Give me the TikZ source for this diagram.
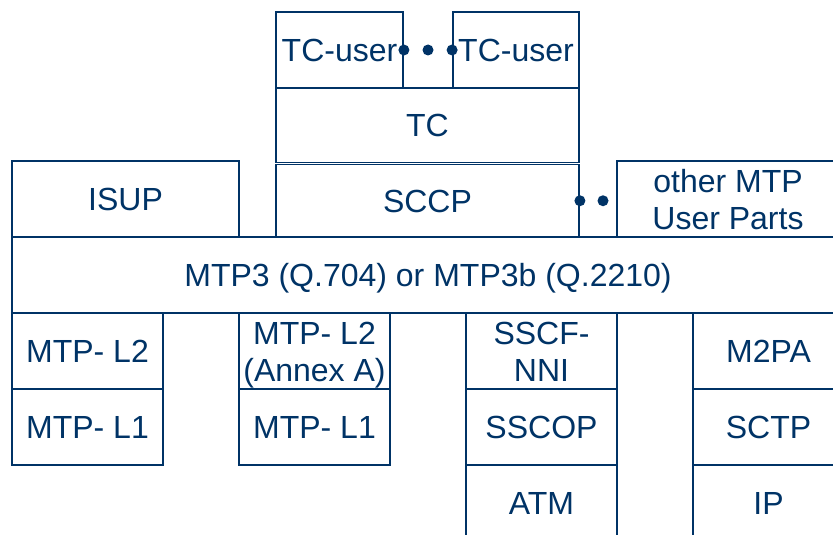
\documentclass[tikz,border=0pt]{standalone}
\usepackage{fontspec}
\setmainfont{Liberation Sans}
\usetikzlibrary{calc}
\definecolor{navy}{RGB}{0,51,102}
\begin{document}
\begin{tikzpicture}[x=1pt,y=-1pt,
  blk/.style={draw=navy, line width=1.8pt, text=navy, inner sep=0pt,
    font=\fontsize{32}{37}\selectfont, text height=23pt, text depth=0pt, align=center},
  two/.style={text height=60pt, text depth=0pt},
  dotc/.style={circle, fill=navy, inner sep=0pt, minimum size=11pt}]
\useasboundingbox (0,0) rectangle (833,535);
\clip (0,0) rectangle (833,535);
% top stack
\node[blk, minimum width=127pt, minimum height=76pt] (tcu1) at (339.5,50) {TC-user};
\node[blk, minimum width=126pt, minimum height=76pt] (tcu2) at (516,50) {TC-user};
\node[blk, minimum width=303pt, minimum height=74.5pt] (tc) at (427.5,125.25) {TC};
\node[blk, minimum width=303pt, minimum height=72.5pt] (sccp) at (427.5,200.75) {SCCP};
\node[blk, minimum width=227pt, minimum height=76pt] (isup) at (125.5,199) {ISUP};
\node[blk, two, minimum width=222pt, minimum height=76pt] (other) at (728,199) {other MTP\\User Parts};
\node[blk, minimum width=832pt, minimum height=76pt] (mtp3) at (428,275) {MTP3 (Q.704) or MTP3b (Q.2210)};
% lower stacks
\node[blk, minimum width=151pt, minimum height=76pt] (l2a) at (87.5,351) {MTP- L2};
\node[blk, minimum width=151pt, minimum height=76pt] (l1a) at (87.5,427) {MTP- L1};
\node[blk, two, minimum width=151pt, minimum height=76pt] (l2b) at (314.5,351) {MTP- L2\\(Annex A)};
\node[blk, minimum width=151pt, minimum height=76pt] (l1b) at (314.5,427) {MTP- L1};
\node[blk, two, minimum width=151pt, minimum height=76pt] (sscf) at (541.5,351) {SSCF-\\NNI};
\node[blk, minimum width=151pt, minimum height=76pt] (sscop) at (541.5,427) {SSCOP};
\node[blk, minimum width=151pt, minimum height=76pt] (atm) at (541.5,503) {ATM};
\node[blk, minimum width=151pt, minimum height=76pt] (m2pa) at (768.5,351) {M2PA};
\node[blk, minimum width=151pt, minimum height=76pt] (sctp) at (768.5,427) {SCTP};
\node[blk, minimum width=151pt, minimum height=76pt] (ip) at (768.5,503) {IP};
% dots
\node[dotc] (d1) at (tcu1.east) {};
\node[dotc] (d2) at ($(tcu1.east)!0.5!(tcu2.west)$) {};
\node[dotc] (d3) at (tcu2.west) {};
\node[dotc] (d4) at (sccp.east) {};
\node[dotc] (d5) at (603,200.75) {};
\end{tikzpicture}
\end{document}
